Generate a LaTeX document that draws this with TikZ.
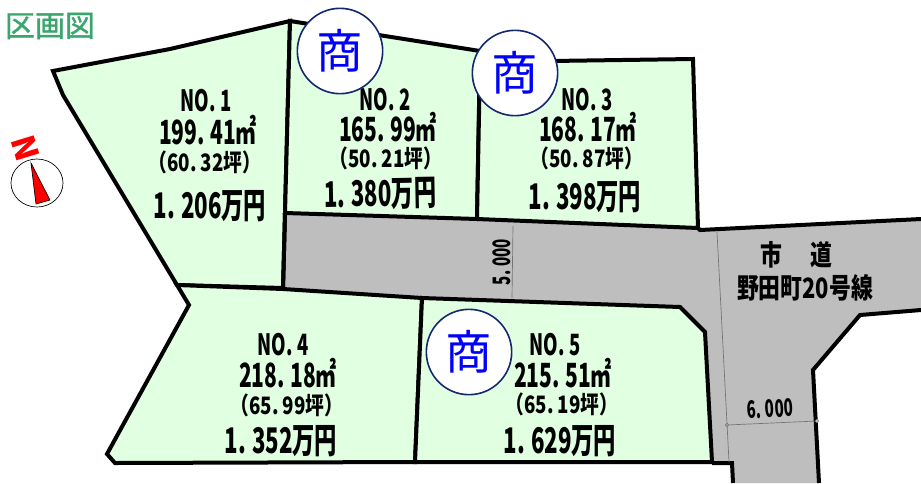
\documentclass[tikz,border=0pt]{standalone}
\usepackage{fontspec}
\setmainfont{Noto Sans CJK JP}
\newfontfamily\lotfont{Noto Sans CJK JP}[FakeStretch=0.63]
\newfontfamily\roadfont{Noto Sans CJK JP}[FakeStretch=0.78]
\newfontfamily\titlefont{Noto Sans CJK JP}[FakeBold=1.2]
\usepackage{xcolor}
\usetikzlibrary{positioning}
\definecolor{lotgreen}{RGB}{225,255,225}
\definecolor{roadgray}{RGB}{190,190,190}
\definecolor{titlegreen}{RGB}{58,166,110}
\definecolor{shopnavy}{RGB}{20,40,110}
\tikzset{
  lot/.style={fill=lotgreen,draw=black,line width=3pt,line join=miter},
  road/.style={fill=roadgray,draw=black,line width=3pt,line join=miter},
  dimline/.style={draw=black!55,line width=0.5pt},
  lotno/.style={font=\lotfont\bfseries\fontsize{22}{22}\selectfont,inner sep=0pt},
  lotarea/.style={font=\lotfont\bfseries\fontsize{25}{25}\selectfont,inner sep=0pt},
  lottsubo/.style={font=\roadfont\bfseries\fontsize{18}{18}\selectfont,inner sep=0pt},
  lotprice/.style={font=\lotfont\bfseries\fontsize{26.5}{26.5}\selectfont,inner sep=0pt},
  dimtext/.style={font=\lotfont\bfseries\fontsize{18}{18}\selectfont,inner sep=0pt},
  roadtext/.style={font=\roadfont\bfseries\fontsize{21}{21}\selectfont,inner sep=0pt},
  shopmark/.style={circle,draw=shopnavy,fill=white,line width=1.2pt,minimum size=64pt,inner sep=0pt,text=blue,font=\fontsize{35}{35}\selectfont}
}
\begin{document}
\begin{tikzpicture}[x=0.75pt,y=-0.75pt]
  \useasboundingbox (0,0) rectangle (921,483);
  \clip (0,0) rectangle (921,483);
  % road
  \path[fill=roadgray] (285,213) -- (700,229) -- (921,219) -- (921,310) -- (860,315) -- (813,370) -- (819,483) -- (733,483) -- (732,463) -- (712,462) -- (705,332) -- (680,307) -- (422,298) -- (283,290) -- cycle;
  % lots
  \draw[lot] (53,71) -- (170,49) -- (290,21) -- (285,213) -- (283,288) -- (177,285) -- (63,95) -- cycle;
  \draw[lot] (290,21) -- (480,51) -- (477,219) -- (285,213) -- cycle;
  \draw[lot] (480,62) -- (693,59) -- (698,228) -- (477,219) -- cycle;
  \draw[lot] (177,285) -- (283,289) -- (422,298) -- (415,462) -- (115,463) -- (107,454) -- (189,305) -- cycle;
  \draw[lot] (422,298) -- (680,307) -- (705,332) -- (712,462) -- (415,462) -- cycle;
  % road edges
  \draw[line width=3pt] (285,213) -- (283,290);
  \draw[line width=3pt] (698,228) -- (700,230) -- (921,219);
  \draw[line width=3pt] (921,310) -- (860,315) -- (813,370) -- (819,483);
  \draw[line width=3pt] (712,463) -- (732,463) -- (733,483);
  % dimensions
  \draw[dimline] (513,226) -- (512,298);
  \draw[dimline] (717,232) -- (729,462);
  \draw[dimline] (727,425) -- (817,421);
  \draw[dimline,fill=roadgray] (727,425) circle (1.6);
  \draw[dimline,fill=white] (817,421) circle (1.6);
  \node[dimtext,rotate=90] (widthA) at (502,262) {5.\,000};
  \node[dimtext,rotate=3] (widthB) at (770,409) {6.\,000};
  \node[roadtext] (roadname) at (796,255) {市\quad 道};
  \node[roadtext] (roadno) at (805,288) {野田町20号線};
  % lot 1
  \node[lotno] (no1) at (206,101) {NO.\,1};
  \node[lotarea] (area1) at (208,130) {199.\,41㎡};
  \node[lottsubo] (tsubo1) at (205,162) {（60.\,32坪）};
  \node[lotprice] (price1) at (210,206) {1.\,206万円};
  % lot 2
  \node[lotno] (no2) at (385,100) {NO.\,2};
  \node[lotarea] (area2) at (388,127) {165.\,99㎡};
  \node[lottsubo] (tsubo2) at (386,158) {（50.\,21坪）};
  \node[lotprice,rotate=1] (price2) at (380,194) {1.\,380万円};
  % lot 3
  \node[lotno] (no3) at (587,100) {NO.\,3};
  \node[lotarea] (area3) at (588,127) {168.\,17㎡};
  \node[lottsubo] (tsubo3) at (587,158) {（50.\,87坪）};
  \node[lotprice] (price3) at (585,197) {1.\,398万円};
  % lot 4
  \node[lotno] (no4) at (283,345) {NO.\,4};
  \node[lotarea] (area4) at (288,373) {218.\,18㎡};
  \node[lottsubo] (tsubo4) at (287,405) {（65.\,99坪）};
  \node[lotprice] (price4) at (281,441) {1.\,352万円};
  % lot 5
  \node[lotno] (no5) at (555,345) {NO.\,5};
  \node[lotarea] (area5) at (563,373) {215.\,51㎡};
  \node[lottsubo] (tsubo5) at (562,404) {（65.\,19坪）};
  \node[lotprice] (price5) at (560,441) {1.\,629万円};
  % shop marks
  \node[shopmark] (shop2) at (340,51) {商};
  \node[shopmark] (shop3) at (515,73) {商};
  \node[shopmark] (shop5) at (469,352) {商};
  % title
  \node[text=titlegreen,font=\titlefont\fontsize{22.5}{22.5}\selectfont,inner sep=0pt] (title) at (50,26) {区画図};
  % north
  \draw[line width=0.5pt,fill=white] (37,183) ellipse (26 and 24);
  \draw[line width=0.5pt,fill=red] (31,163) -- (50,200) -- (36,204) -- cycle;
  \node[text=red,font=\bfseries\fontsize{24}{24}\selectfont,rotate=107,inner sep=0pt] (north) at (26,148) {N};
\end{tikzpicture}
\end{document}
